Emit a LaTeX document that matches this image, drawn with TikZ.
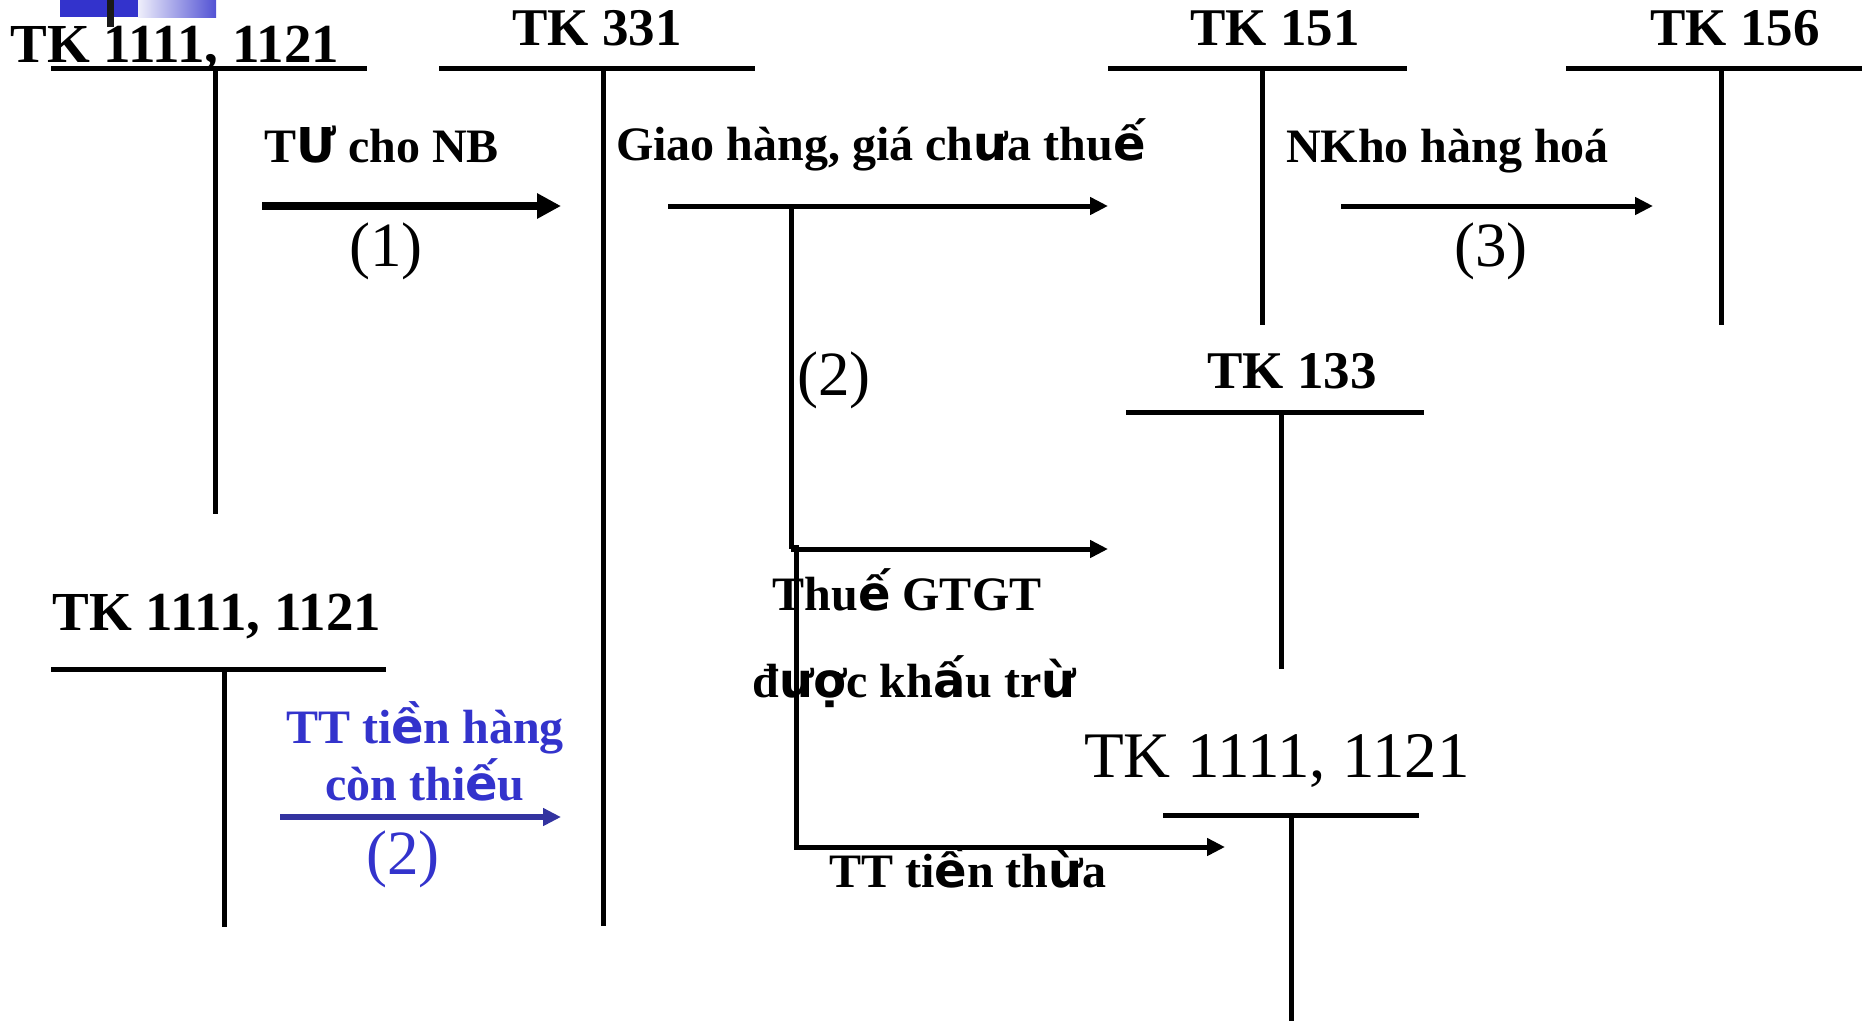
\documentclass[tikz,border=0pt]{standalone}
\usepackage{fontspec}
\setmainfont{Liberation Serif}
\newfontfamily\fbk{DejaVu Sans}
\newcommand\vf[1]{{\fbk #1}}
\usetikzlibrary{arrows.meta}
\definecolor{dblue}{RGB}{51,51,204}
\definecolor{ablue}{RGB}{51,51,160}
\begin{document}
\begin{tikzpicture}[x=1pt,y=-1pt,
  tline/.style={line width=5pt},
  ttl/.style={inner sep=0pt,anchor=base,font=\fontsize{53}{60}\selectfont\bfseries},
  ttlw/.style={ttl,font=\fontsize{55}{62}\selectfont\bfseries},
  lbl/.style={inner sep=0pt,anchor=base,font=\fontsize{48}{56}\selectfont\bfseries},
  lblw/.style={lbl,anchor=base west},
  num/.style={inner sep=0pt,anchor=base,font=\fontsize{63}{72}\selectfont},
  bigarrow/.style={line width=8pt,-{Triangle[length=24pt,width=24pt]}},
  thinarrow/.style={line width=5pt,-{Triangle[length=18pt,width=17pt]}},
]
\useasboundingbox (0,0) rectangle (1862,1021);
% decoration
\fill[dblue] (60,0) rectangle (138,17);
\shade[left color=dblue!8, right color=dblue!85] (138,0) rectangle (216,17);
\fill[black!90] (107,0) rectangle (114,27);

% T account: TK 1111,1121 top-left
\coordinate (a1l) at (51,68); \coordinate (a1r) at (367,68);
\coordinate (a1t) at (215,68); \coordinate (a1b) at (215,514);
\draw[tline] (a1l) -- (a1r); \draw[tline] (a1t) -- (a1b);
\node[ttlw] (t1) at (175,62) {TK 1111, 1121};

% TK 331
\coordinate (b1l) at (439,68); \coordinate (b1r) at (755,68);
\coordinate (b1t) at (603,68); \coordinate (b1b) at (603,926);
\draw[tline] (b1l) -- (b1r); \draw[tline] (b1t) -- (b1b);
\node[ttl] (t331) at (597,45) {TK 331};

% TK 151
\coordinate (c1l) at (1108,68); \coordinate (c1r) at (1407,68);
\coordinate (c1t) at (1262,68); \coordinate (c1b) at (1262,325);
\draw[tline] (c1l) -- (c1r); \draw[tline] (c1t) -- (c1b);
\node[ttl] (t151) at (1275,45) {TK 151};

% TK 156
\coordinate (d1l) at (1566,68); \coordinate (d1r) at (1862,68);
\coordinate (d1t) at (1721,68); \coordinate (d1b) at (1721,325);
\draw[tline] (d1l) -- (d1r); \draw[tline] (d1t) -- (d1b);
\node[ttl] (t156) at (1735,45) {TK 156};

% TK 133
\coordinate (e1l) at (1126,412); \coordinate (e1r) at (1424,412);
\coordinate (e1t) at (1281,412); \coordinate (e1b) at (1281,669);
\draw[tline] (e1l) -- (e1r); \draw[tline] (e1t) -- (e1b);
\node[ttl] (t133) at (1292,388) {TK 133};

% TK 1111,1121 bottom-left
\coordinate (f1l) at (51,669); \coordinate (f1r) at (386,669);
\coordinate (f1t) at (224,669); \coordinate (f1b) at (224,927);
\draw[tline] (f1l) -- (f1r); \draw[tline] (f1t) -- (f1b);
\node[ttlw] (t2) at (217,630) {TK 1111, 1121};

% TK 1111,1121 bottom-right
\coordinate (g1l) at (1163,815); \coordinate (g1r) at (1419,815);
\coordinate (g1t) at (1291,815); \coordinate (g1b) at (1291,1021);
\draw[tline] (g1l) -- (g1r); \draw[tline] (g1t) -- (g1b);
\node[inner sep=0pt,anchor=base,font=\fontsize{65}{72}\selectfont] (t3) at (1277,777) {TK 1111, 1121};

% (1)
\coordinate (p1s) at (262,206); \coordinate (p1e) at (561,206);
\draw[bigarrow] (p1s) -- (p1e);
\node[lblw] (l1) at (264,162) {T\vf{Ư} cho NB};
\node[num] (n1) at (386,266) {(1)};

% (2) Giao hang
\coordinate (p2s) at (668,206); \coordinate (p2e) at (1108,206);
\draw[thinarrow] (p2s) -- (p2e);
\node[lblw] (l2) at (616,160) {Giao hàng, giá ch\vf{ư}a thu\vf{ế}};
\coordinate (q1) at (791,206); \coordinate (q2) at (791,549);
\coordinate (q3) at (1108,549);
\draw[line width=5pt] (q1) -- (q2);
\draw[thinarrow] (q2) -- (q3);
\node[num] (n2) at (834,395) {(2)};
\node[lbl] (l3) at (907,610) {Thu\vf{ế} GTGT};
\node[lbl] (l4) at (914,697) {đ\vf{ượ}c kh\vf{ấ}u tr\vf{ừ}};
\coordinate (r1) at (796,545); \coordinate (r2) at (796,847);
\coordinate (r3) at (1225,847);
\draw[thinarrow] (r1) -- (r2) -- (r3);
\node[lbl] (l5) at (968,887) {TT ti\vf{ề}n th\vf{ừ}a};

% (3)
\coordinate (p3s) at (1341,206); \coordinate (p3e) at (1653,206);
\draw[thinarrow] (p3s) -- (p3e);
\node[lblw] (l6) at (1286,162) {NKho hàng hoá};
\node[num] (n3) at (1491,266) {(3)};

% blue (2)
\coordinate (p4s) at (280,817); \coordinate (p4e) at (561,817);
\draw[thinarrow,ablue,line width=6pt] (p4s) -- (p4e);
\node[lbl,text=dblue] (l7) at (425,743) {TT ti\vf{ề}n hàng};
\node[lbl,text=dblue] (l8) at (425,800) {còn thi\vf{ế}u};
\node[num,text=dblue] (n4) at (403,874) {(2)};
\end{tikzpicture}
\end{document}
